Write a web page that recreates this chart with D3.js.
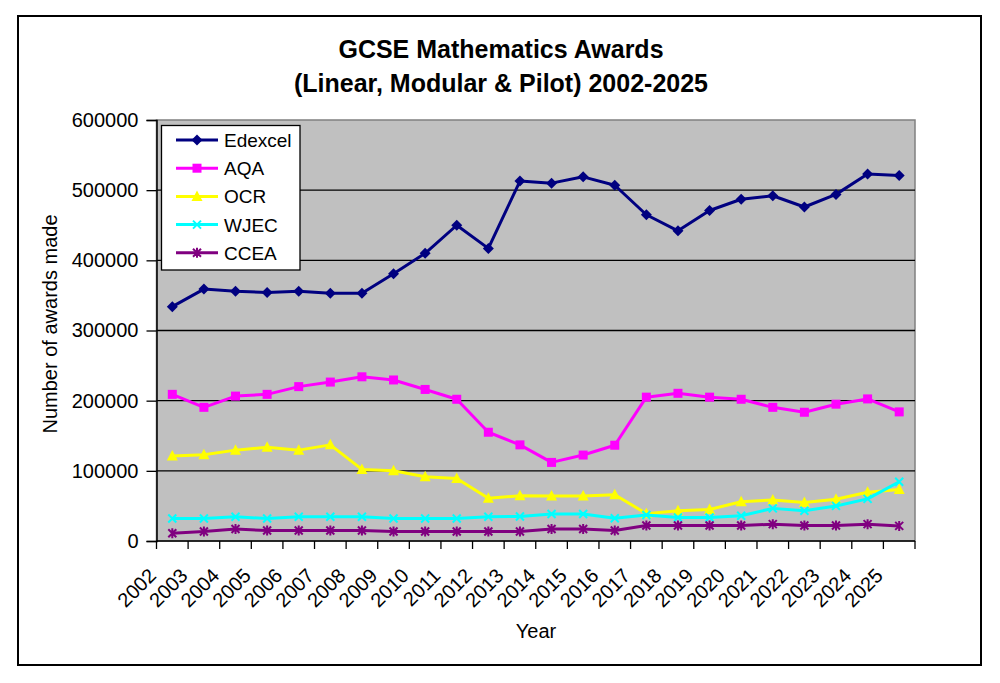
<!DOCTYPE html>
<html>
<head>
<meta charset="utf-8">
<script src="https://cdnjs.cloudflare.com/ajax/libs/d3/7.8.5/d3.min.js"></script>
<style>
  html, body { margin: 0; padding: 0; background: #ffffff; }
  svg { display: block; font-family: "Liberation Sans", Arial, sans-serif; }
</style>
</head>
<body>
<svg id="chart" width="1000" height="683"></svg>
<script>
const years = ["2002","2003","2004","2005","2006","2007","2008","2009","2010","2011","2012","2013",
               "2014","2015","2016","2017","2018","2019","2020","2021","2022","2023","2024","2025"];
const edexcel = [334000,359000,356000,354000,356000,353000,353000,381000,410000,450000,417000,513000,
                 510000,519000,507000,465000,442000,471000,487000,492000,476000,494000,523000,521000];
const aqa     = [209000,190500,206500,209000,220000,226500,234000,229500,216000,202000,155000,137000,
                 112000,122500,136500,205000,210500,205000,202000,190500,183500,195000,202500,184000];
const ocr     = [121000,123000,129500,133500,129500,137000,102000,100000,91500,89000,61000,64500,
                 64000,64000,66000,39000,43000,45000,56000,58500,55000,59500,69500,73500];
const wjec    = [32000,32000,34500,32000,34500,34500,34500,32000,32000,32000,34500,35000,
                 38500,38500,32500,37000,33500,33500,36000,46500,43000,50000,60000,84500];
const ccea    = [11000,13500,17000,15000,15000,15000,15000,13500,13500,13500,13500,13500,
                 17000,17000,15000,22000,22000,22000,22000,24000,22000,22000,24000,21500];
const yTicks = [0,100000,200000,300000,400000,500000,600000];
const seriesNames = ["Edexcel","AQA","OCR","WJEC","CCEA"];
const seriesColors = ["#000080","#FF00FF","#FFFF00","#00FFFF","#800080"];
const seriesMarkers = ["diamond","square","triangle","x","asterisk"];
const seriesValues = [edexcel, aqa, ocr, wjec, ccea];
const titleLines = ["GCSE Mathematics Awards", "(Linear, Modular & Pilot) 2002-2025"];

const svg = d3.select("#chart");
const L = 156.5, R = 915, T = 120, B = 541;

// outer border
svg.append("rect").attr("x", 18).attr("y", 16).attr("width", 963).attr("height", 649)
  .attr("fill", "#fff").attr("stroke", "#000").attr("stroke-width", 2);

const x = d3.scaleBand().domain(years).range([L, R]).padding(0);
const y = d3.scaleLinear().domain([0, 600000]).range([B, T]);

// plot area
svg.append("rect").attr("x", L).attr("y", T).attr("width", R - L).attr("height", B - T)
  .attr("fill", "#C0C0C0").attr("stroke", "#808080").attr("stroke-width", 1.5);

// gridlines
svg.append("g").selectAll("line").data(yTicks.filter(v => v > 0 && v < 600000)).join("line")
  .attr("x1", L).attr("x2", R).attr("y1", d => y(d)).attr("y2", d => y(d))
  .attr("stroke", "#000").attr("stroke-width", 1.3);

// y axis
const yAxis = svg.append("g").attr("transform", `translate(${L},0)`)
  .call(d3.axisLeft(y).tickValues(yTicks).tickSize(10).tickPadding(8).tickFormat(d3.format("d")));
yAxis.select(".domain").attr("stroke", "#000").attr("stroke-width", 1.5);
yAxis.selectAll(".tick line").attr("stroke", "#000").attr("stroke-width", 1.3);
yAxis.selectAll("text").attr("font-size", 20).attr("fill", "#000")
  .attr("font-family", "'Liberation Sans', Arial, sans-serif");

// x axis line + ticks at band edges
svg.append("line").attr("x1", L).attr("x2", R).attr("y1", B).attr("y2", B)
  .attr("stroke", "#000").attr("stroke-width", 1.5);
const edges = years.map(d => x(d)).concat([x.range()[1]]);
svg.append("g").selectAll("line").data(edges).join("line")
  .attr("x1", d => d).attr("x2", d => d).attr("y1", B).attr("y2", B + 8)
  .attr("stroke", "#000").attr("stroke-width", 1.3);
svg.append("g").selectAll("text").data(years).join("text")
  .attr("transform", d => `translate(${x(d) + x.bandwidth() / 2 - 15},${B + 36}) rotate(-45)`)
  .attr("text-anchor", "end").attr("font-size", 20).attr("fill", "#000").text(d => d);

// axis titles
svg.append("text").attr("x", 536).attr("y", 638).attr("text-anchor", "middle")
  .attr("font-size", 20).text("Year");
svg.append("text").attr("transform", "translate(57,324) rotate(-90)").attr("text-anchor", "middle")
  .attr("font-size", 20).text("Number of awards made");

// title
svg.append("g").selectAll("text").data(titleLines).join("text")
  .attr("x", 501).attr("y", (d, i) => 58 + i * 34).attr("text-anchor", "middle")
  .attr("font-size", 25).attr("font-weight", "bold").text(d => d);

// markers
function drawMarker(g, type, color) {
  if (type === "diamond") {
    g.append("path").attr("d", "M0,-5.5L5.5,0L0,5.5L-5.5,0Z").attr("fill", color);
  } else if (type === "square") {
    g.append("rect").attr("x", -4.5).attr("y", -4.5).attr("width", 9).attr("height", 9).attr("fill", color);
  } else if (type === "triangle") {
    g.append("path").attr("d", "M0,-6L5.5,4.5L-5.5,4.5Z").attr("fill", color);
  } else if (type === "x") {
    g.append("path").attr("d", "M-4,-4L4,4M-4,4L4,-4").attr("stroke", color).attr("stroke-width", 2).attr("fill", "none");
  } else if (type === "asterisk") {
    g.append("path").attr("d", "M-4,-4L4,4M-4,4L4,-4M0,-5L0,5").attr("stroke", color).attr("stroke-width", 2).attr("fill", "none");
  }
}

const line = d3.line().x((d, i) => x(years[i]) + x.bandwidth() / 2).y(d => y(d));
seriesValues.forEach((vals, s) => {
  const g = svg.append("g");
  g.append("path").datum(vals).attr("d", line).attr("fill", "none")
    .attr("stroke", seriesColors[s]).attr("stroke-width", 3).attr("stroke-linejoin", "round");
  vals.forEach((v, i) => {
    const m = g.append("g").attr("transform", `translate(${x(years[i]) + x.bandwidth() / 2},${y(v)})`);
    drawMarker(m, seriesMarkers[s], seriesColors[s]);
  });
});

// legend
const lg = svg.append("g");
lg.append("rect").attr("x", 161.5).attr("y", 125.5).attr("width", 138.5).attr("height", 144.5)
  .attr("fill", "#fff").attr("stroke", "#000").attr("stroke-width", 1.3);
seriesNames.forEach((name, s) => {
  const ry = 140 + s * 28.2;
  lg.append("line").attr("x1", 176).attr("x2", 218).attr("y1", ry).attr("y2", ry)
    .attr("stroke", seriesColors[s]).attr("stroke-width", 3);
  const m = lg.append("g").attr("transform", `translate(197,${ry})`);
  drawMarker(m, seriesMarkers[s], seriesColors[s]);
  lg.append("text").attr("x", 224).attr("y", ry + 7).attr("font-size", 19).text(name);
});
</script>
</body>
</html>
